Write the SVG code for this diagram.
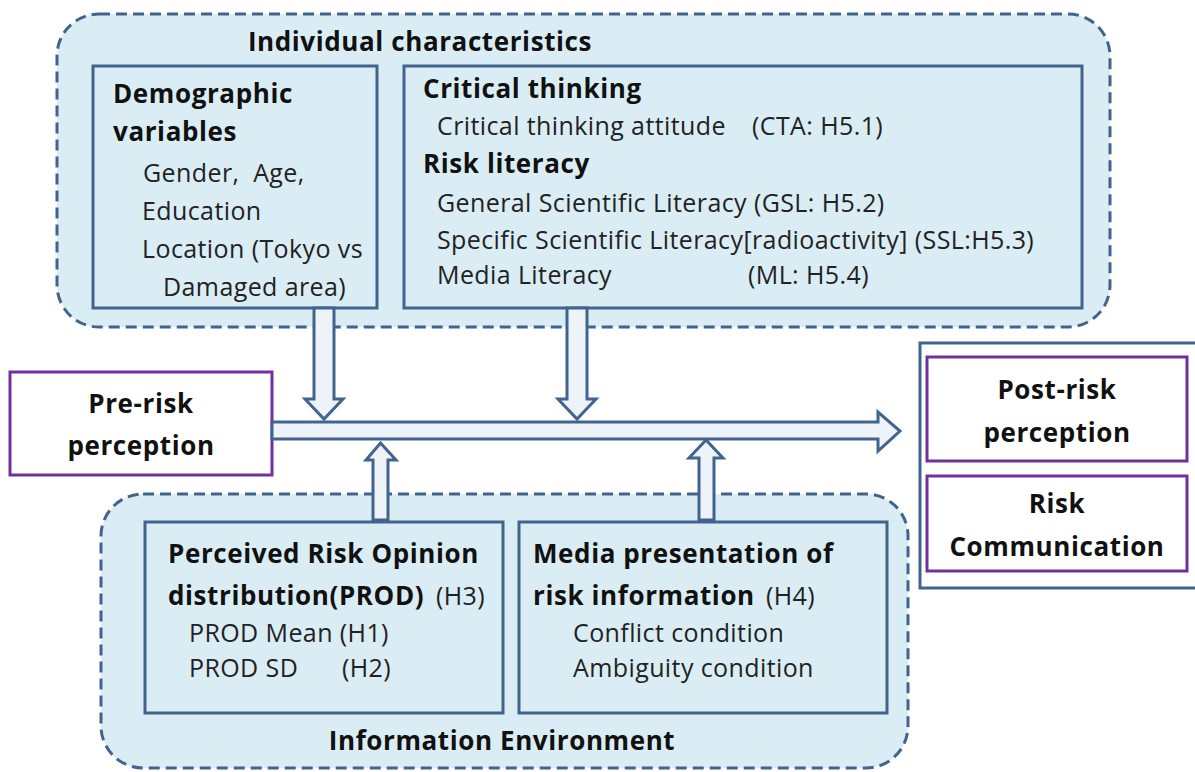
<svg xmlns="http://www.w3.org/2000/svg" width="1195" height="772" viewBox="0 0 1195 772">
<style>
.cont{fill:#dbedf4;stroke:#41648f;stroke-width:3;stroke-dasharray:11 6}
.box{fill:#dbedf4;stroke:#41648f;stroke-width:3}
.pbox{fill:#fff;stroke:#7030a0;stroke-width:3}
.arr{fill:#eef3fa;stroke:#41648f;stroke-width:3;stroke-linejoin:miter}
text{font-family:"Open Sans",Lato,sans-serif;fill:#111}
.b{font-weight:bold;font-size:26px;letter-spacing:0.6px}
.r{font-size:25px;fill:#222;letter-spacing:0.4px}
</style>
<rect width="1195" height="772" fill="#fff"/>
<g id="individual">
<rect class="cont" x="57" y="14" width="1053" height="313" rx="42"/>
<text class="b" x="420" y="51" text-anchor="middle">Individual characteristics</text>
</g>
<g id="demographic">
<rect class="box" x="93" y="66" width="284" height="242"/>
<text class="b" x="113" y="103">Demographic</text>
<text class="b" x="113" y="141">variables</text>
<text class="r" x="143" y="182" xml:space="preserve">Gender,  Age,</text>
<text class="r" x="142" y="220">Education</text>
<text class="r" x="142" y="258">Location (Tokyo vs</text>
<text class="r" x="163" y="296">Damaged area)</text>
</g>
<g id="critical">
<rect class="box" x="404" y="66" width="678" height="242"/>
<text class="b" x="423" y="98">Critical thinking</text>
<text class="r" x="437" y="135">Critical thinking attitude</text>
<text class="r" x="752" y="135">(CTA: H5.1)</text>
<text class="b" x="423" y="173">Risk literacy</text>
<text class="r" x="437" y="212">General Scientific Literacy (GSL: H5.2)</text>
<text class="r" x="437" y="249">Specific Scientific Literacy[radioactivity] (SSL:H5.3)</text>
<text class="r" x="437" y="284">Media Literacy</text>
<text class="r" x="748" y="284">(ML: H5.4)</text>
</g>
<g id="environment">
<rect class="cont" x="101" y="494" width="807" height="274" rx="42"/>
<text class="b" x="502" y="750" text-anchor="middle">Information Environment</text>
</g>
<g id="prod">
<rect class="box" x="145" y="522" width="358" height="191"/>
<text class="b" x="168" y="563">Perceived Risk Opinion</text>
<text x="168" y="605"><tspan class="b">distribution(PROD)</tspan><tspan class="r" x="436">(H3)</tspan></text>
<text class="r" x="189" y="642">PROD Mean (H1)</text>
<text class="r" x="189" y="677">PROD SD</text>
<text class="r" x="342" y="677">(H2)</text>
</g>
<g id="media">
<rect class="box" x="519" y="522" width="368" height="191"/>
<text class="b" x="533" y="563">Media presentation of</text>
<text x="533" y="605"><tspan class="b">risk information</tspan><tspan class="r" x="766">(H4)</tspan></text>
<text class="r" x="573" y="642">Conflict condition</text>
<text class="r" x="573" y="677">Ambiguity condition</text>
</g>
<g id="prerisk">
<rect class="pbox" x="10" y="372" width="262" height="103"/>
<text class="b" x="141" y="413" text-anchor="middle">Pre-risk</text>
<text class="b" x="141" y="455" text-anchor="middle">perception</text>
</g>
<g id="outcomes">
<rect x="920" y="343" width="290" height="245" fill="#fff" stroke="#41648f" stroke-width="3"/>
</g>
<g id="postrisk">
<rect class="pbox" x="927" y="357" width="260" height="104"/>
<text class="b" x="1057" y="399" text-anchor="middle">Post-risk</text>
<text class="b" x="1057" y="442" text-anchor="middle">perception</text>
</g>
<g id="riskcomm">
<rect class="pbox" x="927" y="476" width="260" height="95"/>
<text class="b" x="1057" y="513" text-anchor="middle">Risk</text>
<text class="b" x="1057" y="556" text-anchor="middle">Communication</text>
</g>
<g id="connectors">
<polygon class="arr" points="272,422 878,422 878,412 900,431 878,451 878,439 272,439"/>
<polygon class="arr" points="314,308 334,308 334,399 343,399 324,419 305,399 314,399"/>
<polygon class="arr" points="567,308 587,308 587,399 596,399 577,419 558,399 567,399"/>
<polygon class="arr" points="373,520 373,460 366,460 380.5,443 396,460 388,460 388,520"/>
<polygon class="arr" points="699,520 699,458 689,458 706,440 723,458 714,458 714,520"/>
</g>
</svg>
